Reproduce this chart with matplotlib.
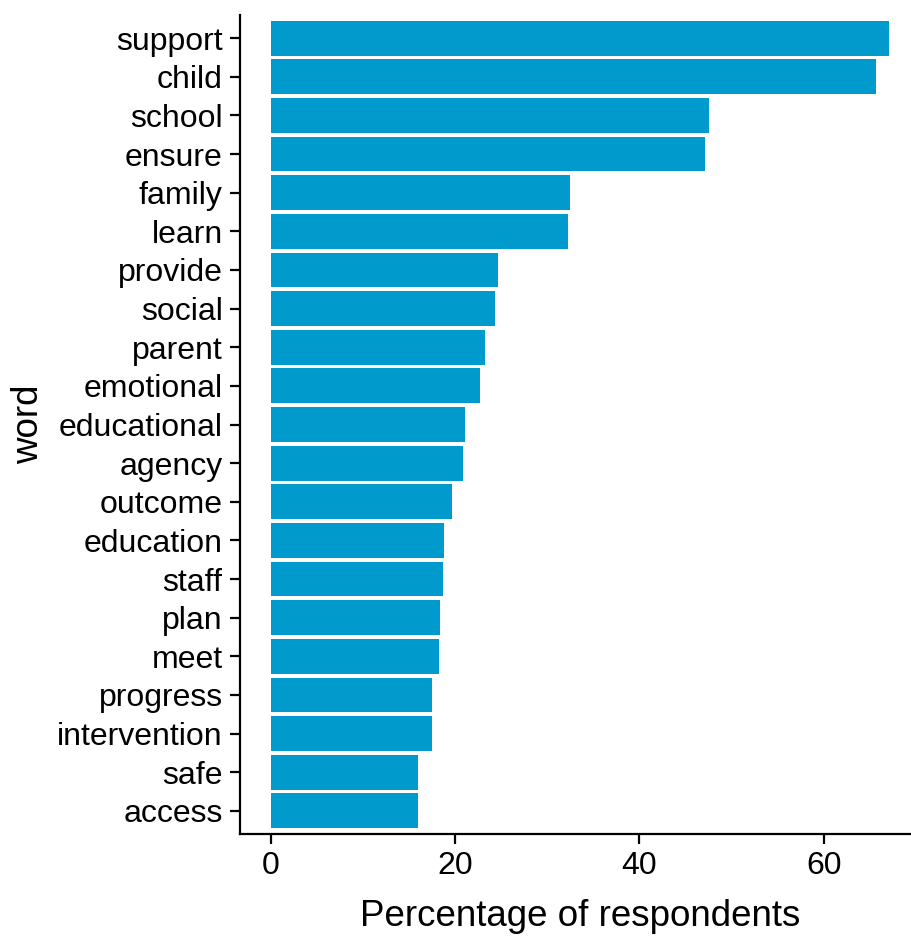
import matplotlib
matplotlib.use("Agg")
import matplotlib.pyplot as plt

words = ["support", "child", "school", "ensure", "family", "learn", "provide",
         "social", "parent", "emotional", "educational", "agency", "outcome",
         "education", "staff", "plan", "meet", "progress", "intervention",
         "safe", "access"]
pct = [67.1, 65.7, 47.5, 47.1, 32.5, 32.3, 24.7, 24.3, 23.2, 22.7, 21.1,
       20.9, 19.7, 18.8, 18.7, 18.4, 18.2, 17.5, 17.5, 16.0, 16.0]
xticks = [0, 20, 40, 60]

plt.rcParams['font.family'] = ['Liberation Sans', 'DejaVu Sans']

W, H = 912, 936
fig = plt.figure(figsize=(W / 100, H / 100), dpi=100)
left, right, top, bottom = 240, 920, 15, 834
ax = fig.add_axes([left / W, 1 - bottom / H, (right - left) / W, (bottom - top) / H])

n = len(words)
ypos = list(range(n, 0, -1))
ax.barh(ypos, pct, height=0.9, color="#009ACD", edgecolor="none")

xmax = max(pct)
ax.set_xlim(-0.05 * xmax, xmax * 1.05)
ax.set_ylim(0.4, n + 0.6)
ax.set_yticks(ypos)
ax.set_yticklabels(words)
ax.set_xticks(xticks)

for s in ["top", "right"]:
    ax.spines[s].set_visible(False)
for s in ["left", "bottom"]:
    ax.spines[s].set_linewidth(1.6)
    ax.spines[s].set_color("black")

ax.tick_params(axis="both", length=7, width=1.6, labelsize=23, colors="black", pad=5.5)
ax.set_xlabel("Percentage of respondents", fontsize=26.5, labelpad=13)
ax.set_ylabel("word", fontsize=26.5, labelpad=8)

fig.savefig("out.png", dpi=100)
